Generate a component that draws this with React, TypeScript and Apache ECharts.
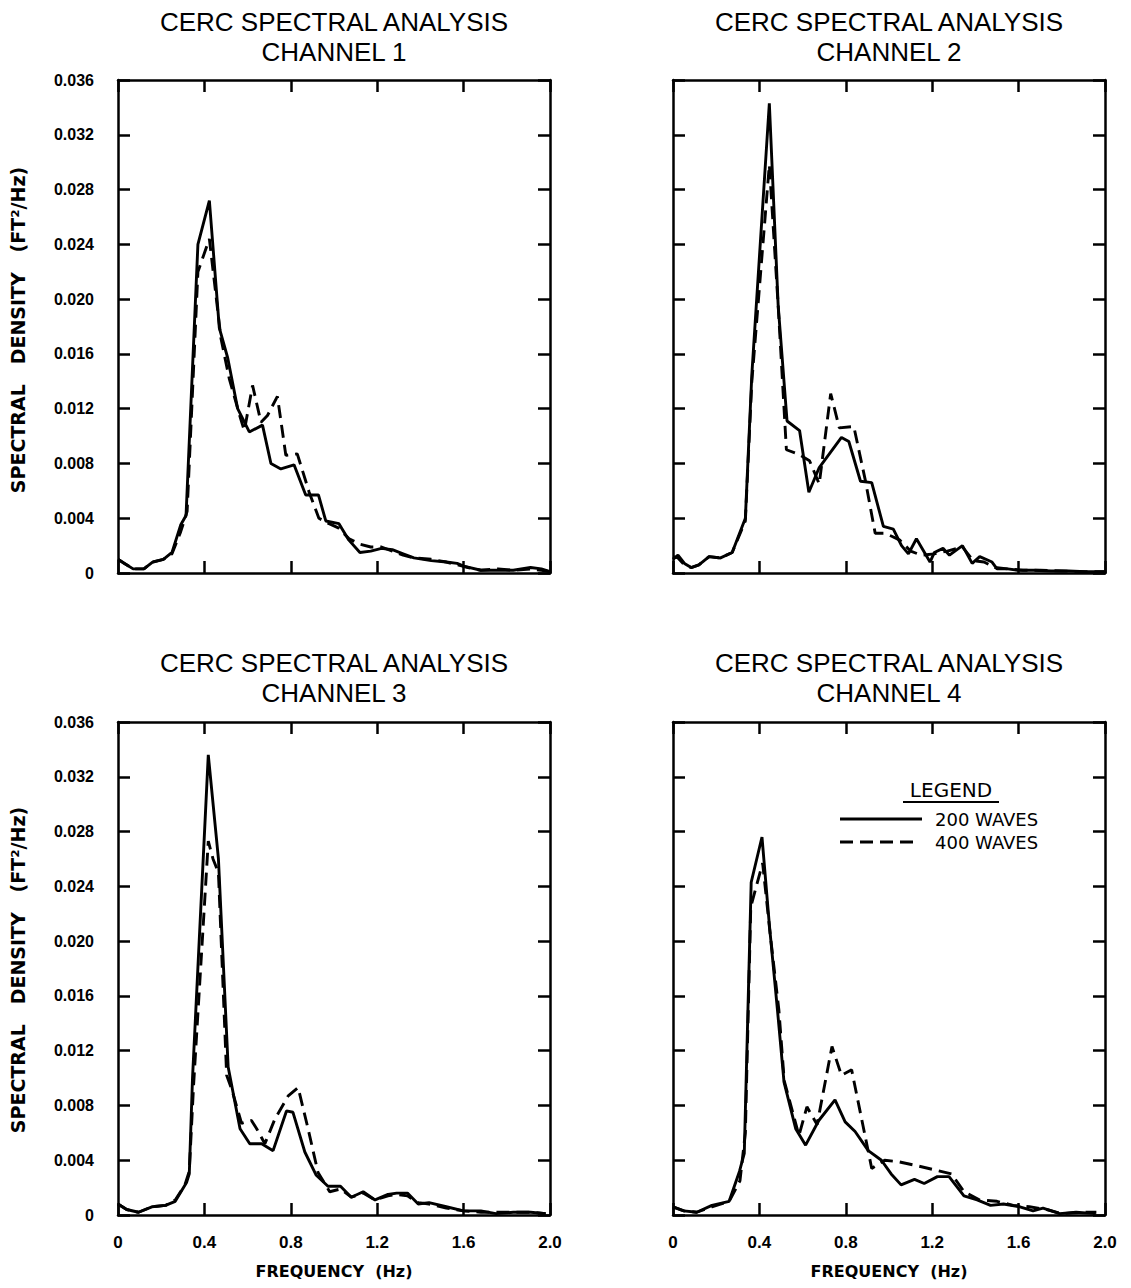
import React, { useEffect, useRef } from "react";
import * as echarts from "echarts";

// ---- data (frequency in Hz, spectral density in ft^2/Hz) ----
const channelNames = ["CHANNEL 1", "CHANNEL 2", "CHANNEL 3", "CHANNEL 4"];
const seriesNames = ["200 WAVES", "400 WAVES"];
const xTickValues = [0, 0.4, 0.8, 1.2, 1.6, 2.0];
const yTickValues = [0, 0.004, 0.008, 0.012, 0.016, 0.02, 0.024, 0.028, 0.032, 0.036];

const ch1F200 = [0, 0.03, 0.07, 0.12, 0.16, 0.21, 0.25, 0.29, 0.315, 0.37, 0.423, 0.469, 0.508, 0.554, 0.608, 0.669, 0.708, 0.754, 0.815, 0.869, 0.928, 0.962, 1.023, 1.069, 1.12, 1.17, 1.22, 1.27, 1.32, 1.37, 1.45, 1.52, 1.57, 1.6, 1.68, 1.76, 1.83, 1.91, 1.96, 2.0];
const ch1V200 = [0.001, 0.0007, 0.0003, 0.0003, 0.0008, 0.001, 0.0015, 0.0035, 0.0042, 0.024, 0.0272, 0.0179, 0.0157, 0.012, 0.0103, 0.0108, 0.008, 0.0076, 0.0079, 0.0057, 0.0057, 0.0038, 0.0036, 0.0024, 0.0015, 0.0016, 0.0018, 0.0017, 0.0014, 0.0011, 0.0009, 0.0008, 0.0007, 0.0005, 0.0002, 0.0002, 0.0002, 0.0004, 0.0003, 0.0001];
const ch1F400 = [0, 0.03, 0.07, 0.12, 0.16, 0.21, 0.25, 0.29, 0.32, 0.37, 0.423, 0.477, 0.515, 0.569, 0.585, 0.623, 0.662, 0.692, 0.738, 0.777, 0.83, 0.885, 0.93, 0.977, 1.02, 1.07, 1.12, 1.17, 1.22, 1.27, 1.32, 1.37, 1.45, 1.52, 1.57, 1.62, 1.68, 1.76, 1.83, 1.91, 1.96, 2.0];
const ch1V400 = [0.001, 0.0007, 0.0003, 0.0003, 0.0008, 0.001, 0.0014, 0.003, 0.0045, 0.022, 0.0244, 0.0171, 0.0142, 0.0112, 0.0104, 0.0137, 0.011, 0.0115, 0.0129, 0.0086, 0.0087, 0.0059, 0.004, 0.0036, 0.0033, 0.0025, 0.0021, 0.0019, 0.0019, 0.0016, 0.0013, 0.0011, 0.001, 0.0008, 0.0006, 0.0004, 0.0002, 0.0003, 0.0002, 0.0003, 0.0002, 0.0001];

const ch2F200 = [0, 0.023, 0.053, 0.084, 0.12, 0.167, 0.22, 0.274, 0.335, 0.365, 0.446, 0.487, 0.528, 0.586, 0.629, 0.677, 0.78, 0.814, 0.868, 0.92, 0.974, 1.02, 1.058, 1.09, 1.127, 1.19, 1.21, 1.25, 1.28, 1.34, 1.385, 1.42, 1.477, 1.5, 1.55, 1.6, 1.67, 1.75, 1.83, 1.91, 2.0];
const ch2V200 = [0.001, 0.0013, 0.0007, 0.0004, 0.0006, 0.0012, 0.0011, 0.0015, 0.004, 0.0145, 0.0343, 0.0195, 0.0111, 0.0104, 0.0059, 0.0077, 0.0099, 0.0096, 0.0067, 0.0066, 0.0034, 0.0032, 0.002, 0.0014, 0.0025, 0.0008, 0.0015, 0.0018, 0.0013, 0.002, 0.0007, 0.0012, 0.0008, 0.0003, 0.0003, 0.0002, 0.0002, 0.00015, 0.00015, 0.0001, 0.0001];
const ch2F400 = [0, 0.023, 0.053, 0.084, 0.12, 0.167, 0.22, 0.274, 0.335, 0.365, 0.446, 0.487, 0.525, 0.578, 0.632, 0.677, 0.73, 0.77, 0.837, 0.89, 0.936, 0.98, 1.01, 1.05, 1.1, 1.15, 1.21, 1.27, 1.34, 1.39, 1.44, 1.49, 1.55, 1.62, 1.7, 1.8, 1.9, 2.0];
const ch2V400 = [0.0012, 0.0011, 0.0006, 0.0004, 0.0006, 0.0012, 0.0011, 0.0015, 0.0038, 0.014, 0.0298, 0.0195, 0.009, 0.0087, 0.0082, 0.0065, 0.0131, 0.0106, 0.0107, 0.0068, 0.0029, 0.0029, 0.0027, 0.0024, 0.0016, 0.0013, 0.0014, 0.0016, 0.0019, 0.0009, 0.0008, 0.0004, 0.0003, 0.0002, 0.0002, 0.00015, 0.0001, 0.0001];

const ch3F200 = [0, 0.04, 0.095, 0.157, 0.22, 0.265, 0.318, 0.33, 0.345, 0.418, 0.465, 0.51, 0.565, 0.61, 0.665, 0.718, 0.78, 0.81, 0.865, 0.918, 0.972, 1.03, 1.08, 1.135, 1.19, 1.25, 1.29, 1.34, 1.39, 1.44, 1.52, 1.6, 1.68, 1.75, 1.83, 1.91, 1.98];
const ch3V200 = [0.0008, 0.0004, 0.0002, 0.0006, 0.0007, 0.001, 0.0024, 0.003, 0.01, 0.0336, 0.026, 0.0108, 0.0063, 0.0052, 0.0052, 0.0047, 0.0076, 0.0075, 0.0046, 0.0029, 0.0021, 0.0021, 0.0013, 0.0017, 0.0011, 0.0015, 0.0016, 0.0016, 0.0008, 0.0009, 0.0006, 0.0003, 0.0003, 0.0001, 0.0002, 0.0002, 0.0001];
const ch3F400 = [0, 0.04, 0.095, 0.157, 0.22, 0.265, 0.31, 0.33, 0.35, 0.418, 0.44, 0.465, 0.503, 0.526, 0.572, 0.618, 0.642, 0.68, 0.726, 0.788, 0.834, 0.88, 0.926, 0.98, 1.03, 1.08, 1.135, 1.19, 1.25, 1.29, 1.34, 1.39, 1.44, 1.52, 1.6, 1.68, 1.75, 1.83, 1.91, 1.98];
const ch3V400 = [0.0008, 0.0004, 0.0002, 0.0006, 0.0007, 0.0011, 0.0022, 0.0032, 0.0095, 0.0273, 0.026, 0.025, 0.0102, 0.0092, 0.0067, 0.0069, 0.0063, 0.0052, 0.007, 0.0087, 0.0093, 0.0063, 0.0031, 0.0017, 0.0019, 0.0013, 0.0016, 0.0011, 0.0014, 0.0015, 0.0014, 0.0009, 0.0008, 0.0005, 0.0003, 0.0002, 0.0002, 0.0002, 0.0002, 0.0001];

const ch4F200 = [0, 0.05, 0.11, 0.18, 0.26, 0.308, 0.33, 0.362, 0.412, 0.446, 0.484, 0.514, 0.568, 0.614, 0.675, 0.75, 0.797, 0.843, 0.904, 0.965, 1.01, 1.056, 1.118, 1.163, 1.224, 1.278, 1.347, 1.408, 1.47, 1.53, 1.606, 1.667, 1.713, 1.79, 1.866, 1.957];
const ch4V200 = [0.0006, 0.0003, 0.0002, 0.0007, 0.001, 0.0032, 0.0045, 0.0243, 0.0276, 0.0212, 0.0149, 0.0097, 0.0063, 0.0051, 0.0069, 0.0084, 0.0068, 0.0061, 0.0047, 0.004, 0.003, 0.0022, 0.0026, 0.0023, 0.0028, 0.0028, 0.0014, 0.0011, 0.0007, 0.0008, 0.0006, 0.0003, 0.0005, 0.0001, 0.0002, 0.0001];
const ch4F400 = [0, 0.05, 0.11, 0.18, 0.26, 0.31, 0.335, 0.36, 0.415, 0.45, 0.49, 0.515, 0.583, 0.62, 0.667, 0.736, 0.78, 0.827, 0.92, 0.98, 1.04, 1.13, 1.21, 1.29, 1.347, 1.42, 1.5, 1.575, 1.65, 1.73, 1.8, 1.9, 1.96];
const ch4V400 = [0.0006, 0.0003, 0.0002, 0.0006, 0.001, 0.0025, 0.006, 0.0225, 0.0257, 0.0205, 0.015, 0.0098, 0.0058, 0.0079, 0.0066, 0.0123, 0.0102, 0.0106, 0.0034, 0.004, 0.0039, 0.0036, 0.0033, 0.003, 0.0017, 0.0011, 0.001, 0.0007, 0.0006, 0.0004, 0.0001, 0.0002, 0.0002];

const f200 = [ch1F200, ch2F200, ch3F200, ch4F200];
const v200 = [ch1V200, ch2V200, ch3V200, ch4V200];
const f400 = [ch1F400, ch2F400, ch3F400, ch4F400];
const v400 = [ch1V400, ch2V400, ch3V400, ch4V400];

const zip = (f: number[], v: number[]) => f.map((x, i) => [x, v[i]]);

// layout
const GRID_LEFT = [118, 673, 118, 673];
const GRID_TOP = [80, 80, 722, 722];
const GRID_W = 432;
const GRID_H = 493;
const CENTER_X = [334, 889];
const DASH = [13, 7];
const LINE_W = 2.9;

const LABEL_FONT = "'Liberation Sans', Arial, sans-serif";
const TITLE_FONT = "'Liberation Sans', Arial, sans-serif";
const AXIS_TITLE_FONT = "'DejaVu Sans', sans-serif";

function buildOption() {
  const grid = GRID_LEFT.map((l, i) => ({
    left: l,
    top: GRID_TOP[i],
    width: GRID_W,
    height: GRID_H,
    containLabel: false,
  }));

  const axisLine = { show: true, onZero: false, lineStyle: { color: "#000", width: 2.5 } };
  const axisTick = { show: true, inside: true, length: 12, lineStyle: { color: "#000", width: 2.5 } };

  const xAxis: any[] = [];
  const yAxis: any[] = [];
  for (let pass = 0; pass < 2; pass++) {
    for (let i = 0; i < 4; i++) {
      const showLabel = pass === 0 && i >= 2;
      xAxis.push({
        type: "value",
        gridIndex: i,
        position: pass === 0 ? "bottom" : "top",
        min: xTickValues[0],
        max: xTickValues[xTickValues.length - 1],
        interval: 0.4,
        axisLine,
        axisTick,
        splitLine: { show: false },
        axisLabel: {
          show: showLabel,
          margin: 19,
          color: "#000",
          fontSize: 17,
          fontWeight: "bold",
          fontFamily: LABEL_FONT,
          formatter: (v: number) => (v === 0 ? "0" : v.toFixed(1)),
        },
      });
    }
  }
  for (let pass = 0; pass < 2; pass++) {
    for (let i = 0; i < 4; i++) {
      const showLabel = pass === 0 && i % 2 === 0;
      yAxis.push({
        type: "value",
        gridIndex: i,
        position: pass === 0 ? "left" : "right",
        min: yTickValues[0],
        max: yTickValues[yTickValues.length - 1],
        interval: 0.004,
        axisLine,
        axisTick,
        splitLine: { show: false },
        axisLabel: {
          show: showLabel,
          margin: 24,
          color: "#000",
          fontSize: 16,
          fontWeight: "bold",
          fontFamily: LABEL_FONT,
          formatter: (v: number) => (v === 0 ? "0" : v.toFixed(3)),
        },
      });
    }
  }

  const series: any[] = [];
  for (let i = 0; i < 4; i++) {
    series.push({
      type: "line",
      name: seriesNames[0],
      xAxisIndex: i,
      yAxisIndex: i,
      data: zip(f200[i], v200[i]),
      symbol: "none",
      silent: true,
      lineStyle: { color: "#000", width: LINE_W, type: "solid" },
      itemStyle: { color: "#000" },
    });
    series.push({
      type: "line",
      name: seriesNames[1],
      xAxisIndex: i,
      yAxisIndex: i,
      data: zip(f400[i], v400[i]),
      symbol: "none",
      silent: true,
      lineStyle: { color: "#000", width: LINE_W, type: DASH },
      itemStyle: { color: "#000" },
    });
  }

  const graphic: any[] = [];
  for (let i = 0; i < 4; i++) {
    const cx = CENTER_X[i % 2];
    const ty = i < 2 ? 22 : 663;
    [["CERC SPECTRAL ANALYSIS", 0], [channelNames[i], 30]].forEach(([txt, dy]) => {
      graphic.push({
        type: "text",
        x: cx,
        y: ty + (dy as number),
        style: {
          text: txt,
          fill: "#000",
          font: `normal 26px ${TITLE_FONT}`,
          textAlign: "center",
          verticalAlign: "middle",
        },
      });
    });
  }
  [330, 970].forEach((cy) => {
    graphic.push({
      type: "text",
      x: 18,
      y: cy,
      rotation: Math.PI / 2,
      style: {
        text: "SPECTRAL   DENSITY   (FT²/Hz)",
        fill: "#000",
        font: `bold 19px ${AXIS_TITLE_FONT}`,
        textAlign: "center",
        verticalAlign: "middle",
      },
    });
  });
  CENTER_X.forEach((cx) => {
    graphic.push({
      type: "text",
      x: cx,
      y: 1271,
      style: {
        text: "FREQUENCY  (Hz)",
        fill: "#000",
        font: `bold 16px ${AXIS_TITLE_FONT}`,
        textAlign: "center",
        verticalAlign: "middle",
      },
    });
  });
  // legend (panel 4)
  graphic.push({
    type: "text",
    x: 951,
    y: 790,
    style: {
      text: "LEGEND",
      fill: "#000",
      font: `normal 20px ${AXIS_TITLE_FONT}`,
      textAlign: "center",
      verticalAlign: "middle",
    },
  });
  graphic.push({
    type: "line",
    shape: { x1: 903, y1: 802, x2: 999, y2: 802 },
    style: { stroke: "#000", lineWidth: 2 },
  });
  const legendRowsY = [819, 842];
  seriesNames.forEach((name, k) => {
    graphic.push({
      type: "line",
      shape: { x1: 840, y1: legendRowsY[k], x2: k === 0 ? 922 : 918, y2: legendRowsY[k] },
      style: { stroke: "#000", lineWidth: LINE_W, lineDash: k === 0 ? null : DASH },
    });
    graphic.push({
      type: "text",
      x: 935,
      y: legendRowsY[k],
      style: {
        text: name,
        fill: "#000",
        font: `normal 18px ${AXIS_TITLE_FONT}`,
        textAlign: "left",
        verticalAlign: "middle",
      },
    });
  });

  return {
    animation: false,
    backgroundColor: "#fff",
    grid,
    xAxis,
    yAxis,
    series,
    graphic,
  };
}

export default function App() {
  const ref = useRef<HTMLDivElement | null>(null);
  useEffect(() => {
    document.body.style.margin = "0";
    document.body.style.overflow = "hidden";
    if (!ref.current) return;
    const chart = echarts.init(ref.current, undefined, { renderer: "svg" });
    chart.setOption(buildOption() as any);
    return () => chart.dispose();
  }, []);
  return <div ref={ref} style={{ width: 1131, height: 1288 }} />;
}
